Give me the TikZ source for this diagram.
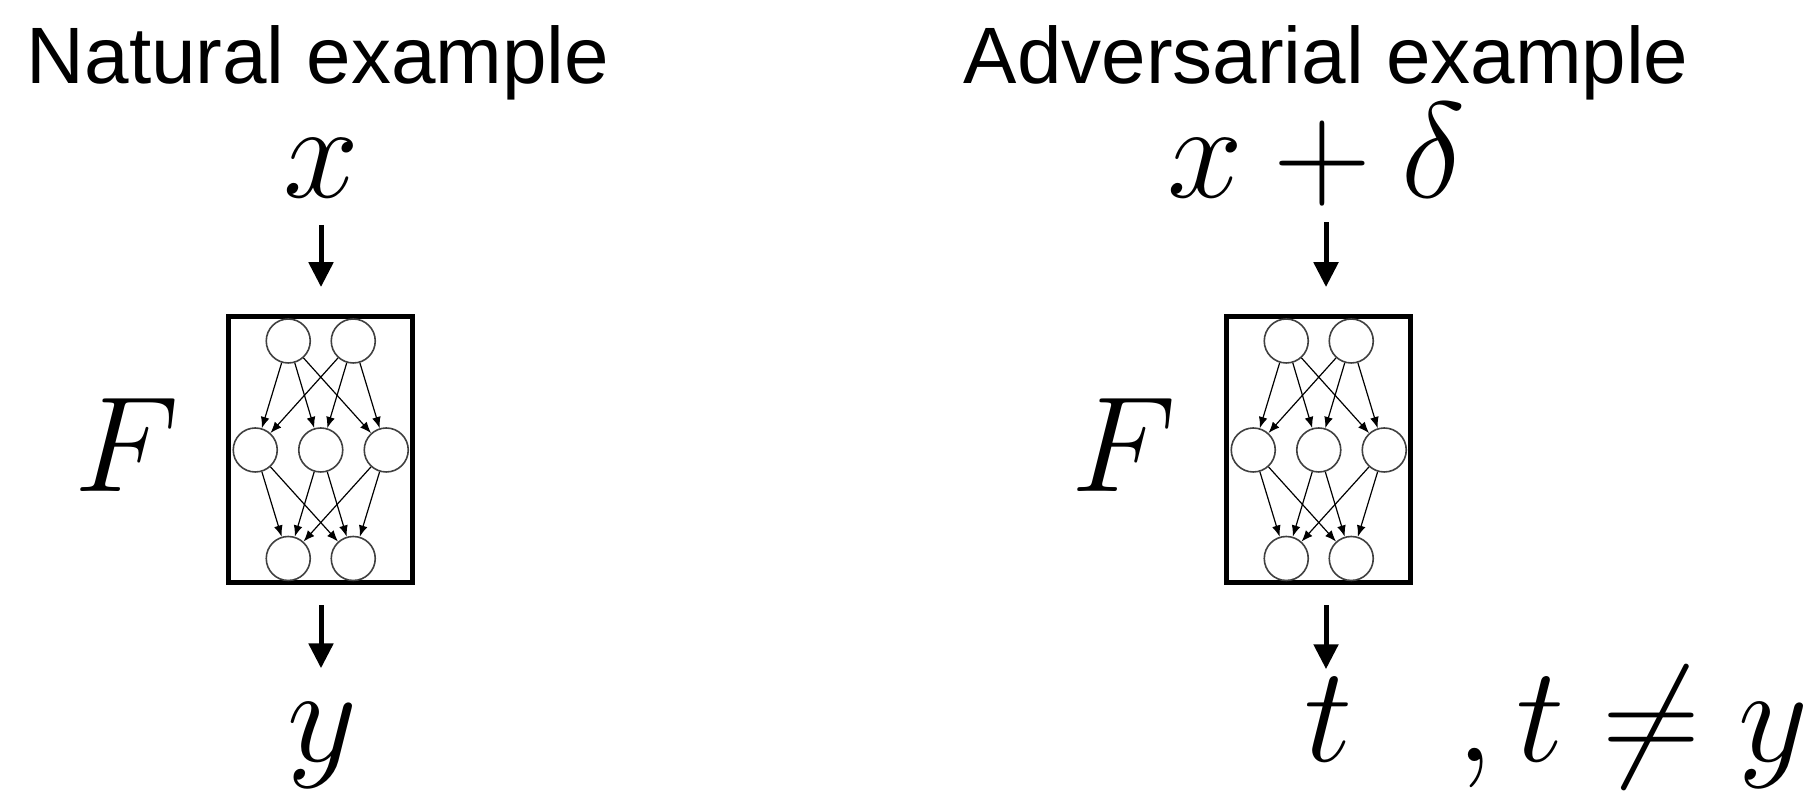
\documentclass[tikz,border=0pt]{standalone}
\usepackage{fix-cm}
\usepackage{fontspec}
\newfontfamily\lsans{Liberation Sans}
\usetikzlibrary{arrows.meta}
\begin{document}
\begin{tikzpicture}[x=0.25pt,y=-0.25pt,
  title/.style={font=\lsans\fontsize{20}{24}\selectfont,inner sep=0pt,anchor=base west},
  mathlbl/.style={font=\fontsize{34}{40}\selectfont,inner sep=0pt,anchor=base},
  netbox/.style={draw,line width=1.25pt,minimum width=45.9pt,minimum height=66.6pt,inner sep=0pt},
  neuron/.style={circle,draw=black!75,line width=0.4pt,minimum size=11pt,inner sep=0pt},
  edge/.style={line width=0.3pt,-{Latex[length=2.8pt,width=2.2pt]}},
  bigarrow/.style={line width=1.25pt,-{Triangle[length=6.2pt,width=6pt]}}]
\useasboundingbox (0,0) rectangle (1807,809);

\node[title] (tN) at (26,84) {Natural example};
\node[title] (tA) at (963,84) {Adversarial example};

\node[mathlbl] (xL) at (321,198) {$x$};
\node[mathlbl] (xR) at (1317,198) {$x+\delta$};
\node[mathlbl,anchor=base west] (FL) at (74,492) {$F$};
\node[mathlbl,anchor=base west] (FR) at (1071,492) {$F$};
\node[mathlbl] (yL) at (322,762) {$y$};
\node[mathlbl] (tR) at (1329,762) {$t$};
\node[mathlbl,anchor=base west] (neq) at (1456,762) {$,t\neq y$};
\coordinate (ax) at (1326,0);

\foreach \p/\cx in {L/320.75,R/1318.75}{
  \node[netbox] (box\p) at (\cx,449.75) {};
  \node[neuron] (\p t1) at (\cx-32.5,341) {};
  \node[neuron] (\p t2) at (\cx+32.5,341) {};
  \node[neuron] (\p m1) at (\cx-65.5,450) {};
  \node[neuron] (\p m2) at (\cx,450) {};
  \node[neuron] (\p m3) at (\cx+65.5,450) {};
  \node[neuron] (\p b1) at (\cx-32.5,558.5) {};
  \node[neuron] (\p b2) at (\cx+32.5,558.5) {};
  \foreach \i in {1,2}{
    \foreach \j in {1,2,3}{
      \draw[edge] (\p t\i) -- (\p m\j);
      \draw[edge] (\p m\j) -- (\p b\i);
    }
  }
}

\draw[bigarrow,shorten <=6.5pt,shorten >=6.75pt] (xL.south) -- (boxL.north -| xL.south);
\draw[bigarrow,shorten <=3.7pt,shorten >=6.75pt] (xR.south -| ax) -- (boxR.north -| ax);
\draw[bigarrow,shorten <=5pt,shorten >=8.6pt] (boxL.south -| xL.south) -- (yL.north -| xL.south);
\draw[bigarrow,shorten <=5pt,shorten >=2.1pt] (boxR.south -| ax) -- (tR.north -| ax);
\end{tikzpicture}
\end{document}
